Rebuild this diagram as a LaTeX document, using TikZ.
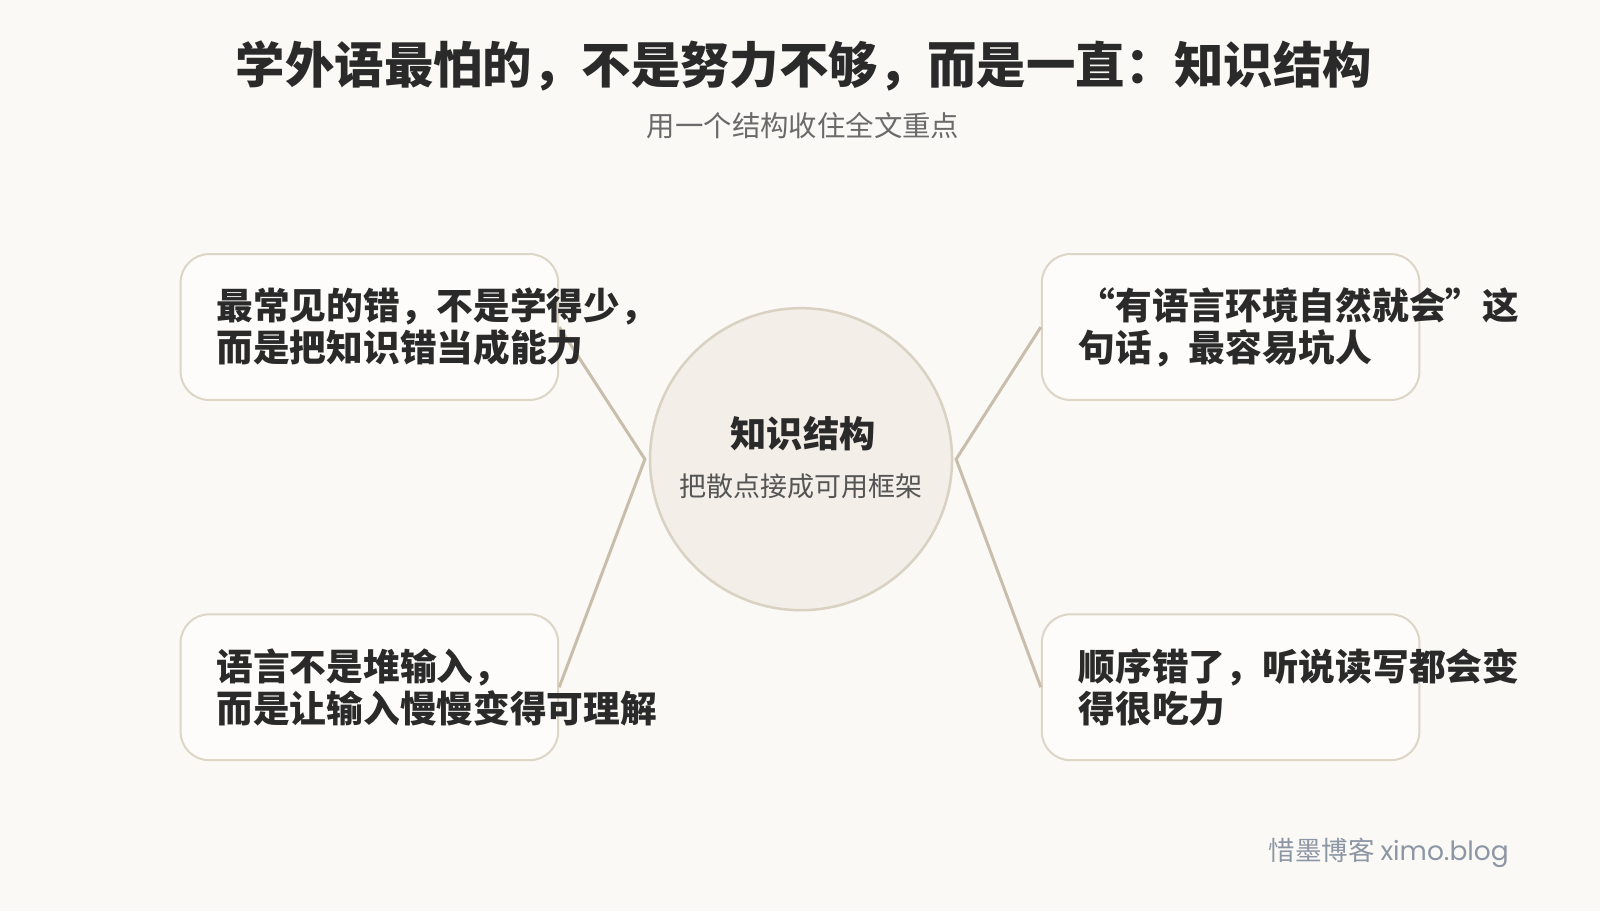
\documentclass[tikz,border=0pt]{standalone}
\usepackage{fontspec}
\setmainfont{Noto Sans CJK SC}
\newfontfamily\cjk{Noto Sans CJK SC}
\newfontfamily\latinmark{Poppins}
\definecolor{bgc}{HTML}{FAF9F6}
\definecolor{circfill}{HTML}{F3EFE8}
\definecolor{circline}{HTML}{D9D1C2}
\definecolor{boxfill}{HTML}{FDFCFA}
\definecolor{boxline}{HTML}{DDD5C6}
\definecolor{connc}{HTML}{C9BEAB}
\definecolor{titlec}{HTML}{2A2A2A}
\definecolor{subc}{HTML}{6A6A6A}
\definecolor{csubc}{HTML}{555555}
\definecolor{markc}{HTML}{8D96A4}
\tikzset{
  card/.style={draw=boxline, line width=2pt, fill=boxfill, rounded corners=28.6pt,
    minimum width=377.6pt, minimum height=145.9pt, inner sep=0pt},
  cardtext/.style={anchor=west, align=left, inner sep=0pt, text=titlec,
    font=\cjk\bfseries\fontsize{36.7}{41.8}\selectfont},
  conn/.style={draw=connc, line width=3pt},
  hub/.style={circle, draw=circline, line width=2.5pt, fill=circfill, minimum size=302pt, inner sep=0pt}
}
\begin{document}
\begin{tikzpicture}[x=1.0204pt,y=-1.0204pt]
\fill[bgc] (0,0) rectangle (1568,892.8);
\useasboundingbox (0,0) rectangle (1568,892.8);

\node[font=\cjk\bfseries\fontsize{49.4}{58}\selectfont, text=titlec, inner sep=0pt] (title) at (788,65) {学外语最怕的，不是努力不够，而是一直：知识结构};
\node[font=\cjk\fontsize{28.4}{34}\selectfont, text=subc, inner sep=0pt] (subtitle) at (787,123) {用一个结构收住全文重点};

\node[hub] (c) at (785,450) {};
\coordinate (cw) at (632,450);
\coordinate (ce) at (937,450);

\node[card] (tl) at (362,320.5) {};
\node[card] (tr) at (1206,320.5) {};
\node[card] (bl) at (362,673.5) {};
\node[card] (br) at (1206,673.5) {};

\draw[conn] (tl.east) -- (cw) -- (bl.east);
\draw[conn] (tr.west) -- (ce) -- (br.west);

\node[cardtext] (tlt) at (212,320.5) {最常见的错，不是学得少，\\而是把知识错当成能力};
\node[cardtext] (trt) at (1057,320.5) {“有语言环境自然就会”这\\句话，最容易坑人};
\node[cardtext] (blt) at (212,673.5) {语言不是堆输入，\\而是让输入慢慢变得可理解};
\node[cardtext] (brt) at (1057,673.5) {顺序错了，听说读写都会变\\得很吃力};

\node[font=\cjk\bfseries\fontsize{36.2}{42}\selectfont, text=titlec, inner sep=0pt] (ct) at (787,425) {知识结构};
\node[font=\cjk\fontsize{27}{32}\selectfont, text=csubc, inner sep=0pt] (cs) at (785,477) {把散点接成可用框架};

\node[font=\cjk\fontsize{26.5}{31}\selectfont, text=markc, anchor=west, inner sep=0pt] (mark) at (1243,836) {惜墨博客 {\latinmark ximo.blog}};
\end{tikzpicture}
\end{document}
